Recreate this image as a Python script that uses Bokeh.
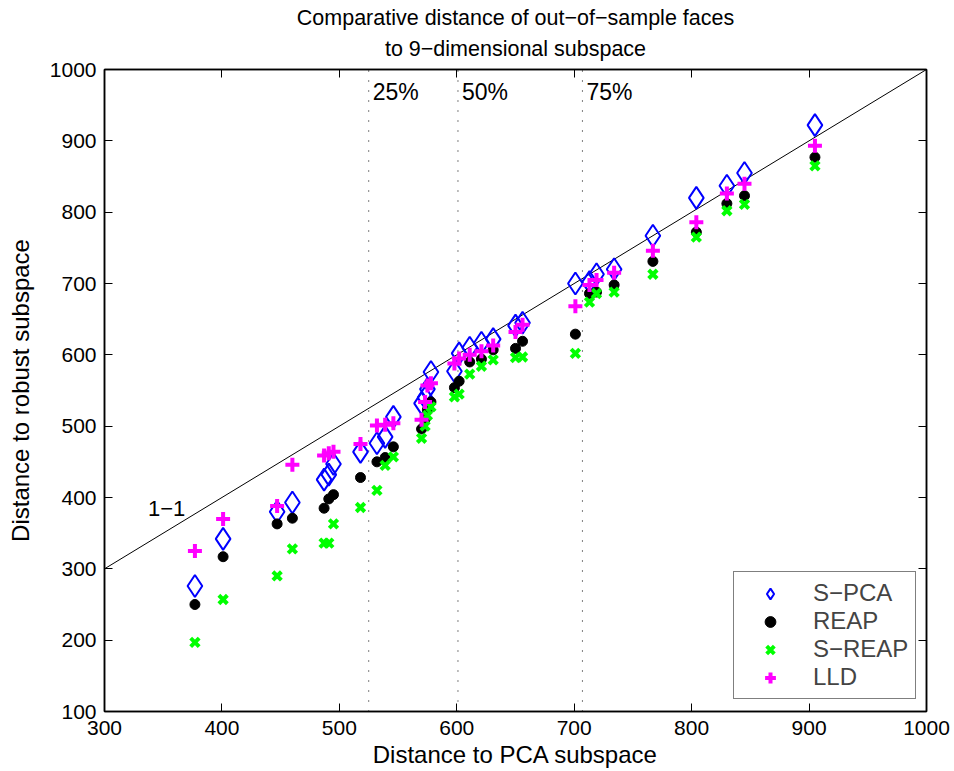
from bokeh.plotting import figure
from bokeh.models import LinearAxis, Title, Legend, LegendItem, FixedTicker, Range1d
from bokeh.embed import file_html
from bokeh.resources import INLINE
from bokeh.core.properties import value

FONT = "Liberation Sans"

# ---- data ----
x_pca = [377, 401, 447, 460, 487, 491, 495, 518, 532, 539, 546, 570, 573, 575, 578,
         598, 602, 611, 621, 631, 650, 656, 701, 713, 719, 734, 767, 804, 830, 845, 905]
spca = [276, 342, 380, 393, 425, 432, 447, 464, 476, 485, 513, 532, 540, 552, 576,
        577, 602, 610, 617, 622, 641, 645, 700, 702, 713, 720, 767, 820, 837, 855, 922]
reap = [250, 317, 363, 371, 385, 398, 404, 428, 450, 456, 471, 496, 510, 523, 534,
        554, 563, 590, 594, 607, 609, 619, 629, 686, 688, 698, 731, 772, 812, 823, 877]
sreap = [197, 257, 290, 328, 336, 336, 363, 386, 410, 445, 457, 483, 500, 515, 527,
         541, 545, 573, 584, 593, 596, 597, 602, 674, 686, 688, 713, 765, 802, 811, 865]
lld = [325, 370, 388, 446, 459, 462, 464, 475, 501, 502, 504, 509, 534, 557, 560,
       588, 595, 600, 605, 613, 632, 642, 668, 698, 705, 715, 746, 786, 826, 840, 893]

quantile_x = [525, 601, 707]
quantile_labels = ["25%", "50%", "75%"]
quantile_label_y = 969

x_ticks = [300, 400, 500, 600, 700, 800, 900, 1000]
y_ticks = [100, 200, 300, 400, 500, 600, 700, 800, 900, 1000]

title_lines = ["Comparative distance of out\u2212of\u2212sample faces",
               "to 9\u2212dimensional subspace"]

identity_label = "1\u22121"
identity_label_x = 337
identity_label_y = 385

p = figure(width=950, height=770,
           x_range=Range1d(x_ticks[0], x_ticks[-1]),
           y_range=Range1d(y_ticks[0], y_ticks[-1]),
           output_backend="svg", toolbar_location=None, title=None,
           min_border_left=104, min_border_right=24,
           min_border_top=69, min_border_bottom=58)

p.xgrid.visible = False
p.ygrid.visible = False
p.outline_line_color = "black"
p.outline_line_width = 1.5
p.background_fill_color = "white"
p.border_fill_color = "white"

def style_axis(ax, ticks, show_labels=True):
    ax.ticker = FixedTicker(ticks=ticks)
    ax.major_tick_in = 8
    ax.major_tick_out = 0
    ax.minor_tick_line_color = None
    ax.axis_line_color = "black"
    ax.axis_line_width = 1.5
    ax.major_tick_line_color = "black"
    ax.major_tick_line_width = 1
    if show_labels:
        ax.major_label_text_font = FONT
        ax.major_label_text_font_size = "21px"
        ax.major_label_text_color = "black"
        ax.axis_label_text_font = FONT
        ax.axis_label_text_font_size = "24px"
        ax.axis_label_text_font_style = "normal"
        ax.axis_label_text_color = "black"
    else:
        # tick marks only: labels are not painted
        ax.major_label_text_font_size = "1px"
        ax.major_label_text_color = None
        ax.major_label_standoff = 0

style_axis(p.xaxis[0], x_ticks)
style_axis(p.yaxis[0], y_ticks)
p.xaxis[0].axis_label = "Distance to PCA subspace"
p.yaxis[0].axis_label = "Distance to robust subspace"
p.xaxis[0].major_label_standoff = 9
p.xaxis[0].axis_label_standoff = 3
p.yaxis[0].major_label_standoff = 8
p.yaxis[0].axis_label_standoff = 13

top_axis = LinearAxis()
style_axis(top_axis, x_ticks, show_labels=False)
p.add_layout(top_axis, "above")
right_axis = LinearAxis()
style_axis(right_axis, y_ticks, show_labels=False)
p.add_layout(right_axis, "right")

# two centred title lines: the second is added first so it sits nearer the frame
t2 = Title(text=title_lines[1], align="center", vertical_align="top", text_font=FONT,
           text_font_size="21.5px", text_font_style="normal", text_color="black",
           standoff=14)
p.add_layout(t2, "above")
t1 = Title(text=title_lines[0], align="center", text_font=FONT,
           text_font_size="21.5px", text_font_style="normal", text_color="black",
           standoff=0)
p.add_layout(t1, "above")

# 1-1 line
p.line(x=[x_ticks[0], x_ticks[-1]], y=[x_ticks[0], x_ticks[-1]], line_color="black", line_width=1)
p.text(x=[identity_label_x], y=[identity_label_y], text=[identity_label],
       text_font=value(FONT), text_font_size="22px", text_baseline="middle", text_color="black")

# quantile dotted lines
p.segment(x0=quantile_x, y0=[y_ticks[0]] * len(quantile_x), x1=quantile_x,
          y1=[y_ticks[-1]] * len(quantile_x), line_color="black", line_width=1, line_dash="1 9")
p.text(x=quantile_x, y=[quantile_label_y] * len(quantile_x), text=quantile_labels,
       x_offset=4, text_font=value(FONT), text_font_size="23px", text_baseline="middle",
       text_color="black")

r1 = p.scatter(x_pca, spca, marker="diamond", size=22, line_color="#0000FF",
               fill_color=None, line_width=2)
r2 = p.scatter(x_pca, reap, marker="circle", size=10, line_color="black", fill_color="black")
r3 = p.scatter(x_pca, sreap, marker="x", size=12, line_color="#00FF00", line_width=4)
r4 = p.scatter(x_pca, lld, marker="cross", size=14, line_color="#FF00FF", line_width=4)

legend = Legend(items=[
    LegendItem(label="S\u2212PCA", renderers=[r1]),
    LegendItem(label="REAP", renderers=[r2]),
    LegendItem(label="S\u2212REAP", renderers=[r3]),
    LegendItem(label="LLD", renderers=[r4]),
], location=(629, 12))
legend.label_text_font = FONT
legend.label_text_font_size = "24px"
legend.glyph_width = 58
legend.glyph_height = 27
legend.label_height = 26
legend.label_standoff = 14
legend.padding = 7
legend.spacing = 0
legend.margin = 0
legend.border_line_color = "black"
legend.border_line_width = 1.5
legend.background_fill_color = "white"
legend.background_fill_alpha = 1
p.add_layout(legend)

open("out.html", "w").write(file_html(p, INLINE))
